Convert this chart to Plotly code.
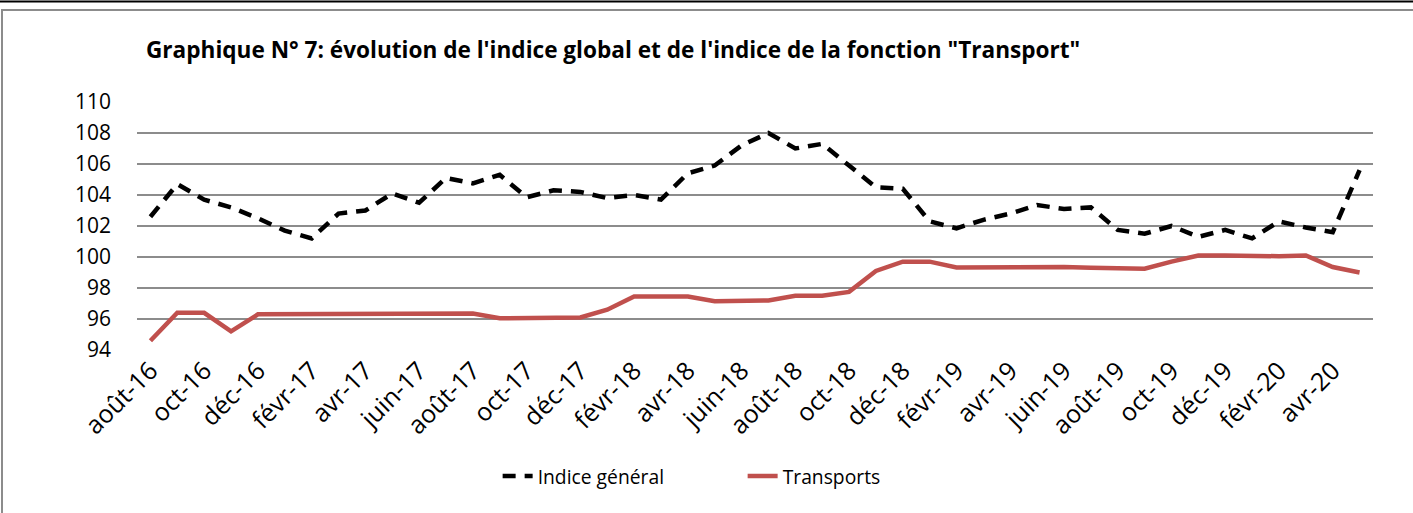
import plotly.graph_objects as go

months = ["janv", "févr", "mars", "avr", "mai", "juin", "juil", "août", "sept", "oct", "nov", "déc"]
categories = []
y, m = 16, 7
for _ in range(46):
    categories.append(f"{months[m]}-{y:02d}")
    m += 1
    if m == 12:
        m = 0
        y += 1

indice_general = [102.6, 104.7, 103.7, 103.2, 102.5, 101.7, 101.2, 102.8, 103.0, 104.1,
                  103.5, 105.1, 104.75, 105.3, 103.85, 104.3, 104.2, 103.8, 104.0, 103.7,
                  105.4, 105.9, 107.2, 108.0, 107.0, 107.3, 105.9, 104.5, 104.4, 102.3,
                  101.85, 102.4, 102.8, 103.35, 103.1, 103.2, 101.75, 101.5, 102.0, 101.3,
                  101.75, 101.2, 102.3, 101.9, 101.6, 105.6]
transports = [94.6, 96.4, 96.4, 95.2, 96.3, 96.3, 96.3, 96.28, 96.28, 96.3,
              96.32, 96.32, 96.35, 96.05, 96.05, 96.05, 96.1, 96.6, 97.45, 97.45,
              97.45, 97.15, 97.15, 97.2, 97.5, 97.5, 97.75, 99.1, 99.7, 99.7,
              99.33, 99.35, 99.35, 99.4, 99.35, 99.3, 99.25, 99.25, 99.7, 100.1,
              100.1, 100.05, 100.05, 100.1, 99.35, 99.0]
yticks = [94, 96, 98, 100, 102, 104, 106, 108, 110]

FONT = "Open Sans"

fig = go.Figure()
fig.add_trace(go.Scatter(x=categories, y=indice_general, mode="lines", name="Indice général",
                         line=dict(color="black", width=4.5, dash="13px,9px")))
fig.add_trace(go.Scatter(x=categories, y=transports, mode="lines", name="Transports",
                         line=dict(color="#C0504D", width=4.5)))

fig.update_layout(
    width=1413, height=513,
    margin=dict(l=137, r=40, t=102, b=163),
    paper_bgcolor="white", plot_bgcolor="white",
    font=dict(family=FONT, color="black"),
    title=dict(text="<b>Graphique N° 7: évolution de l'indice global et de l'indice de la fonction \"Transport\"</b>",
               x=146/1413, xanchor="left", y=1-50/513, yanchor="middle",
               font=dict(size=22.6, family=FONT, color="black")),
    showlegend=True,
    legend=dict(orientation="h", x=0.49, xanchor="center", y=-0.51, yanchor="middle",
                font=dict(size=19.3, family=FONT), traceorder="normal",
                entrywidth=200, entrywidthmode="pixels"),
    xaxis=dict(type="category", tickvals=categories[::2], ticktext=categories[::2],
               tickangle=-45, tickfont=dict(size=25, family=FONT), showgrid=False,
               showline=False, ticks="", range=[-0.5, 45.5]),
    yaxis=dict(range=[94, 110], tickvals=yticks, showgrid=True, gridcolor="#8C8C8C", gridwidth=1.5,
               tickfont=dict(size=21, family=FONT), zeroline=False, ticklabelstandoff=25),
)

fig.add_shape(type="rect", xref="paper", yref="paper",
              x0=-135/1236, x1=(1420-137)/1236, y0=-(520-350)/248, y1=(350-10)/248,
              line=dict(color="#8C8C8C", width=2), layer="below")
fig.add_shape(type="line", xref="paper", yref="paper",
              x0=-137/1236, x1=(1413-137)/1236, y0=(350-1.5)/248, y1=(350-1.5)/248,
              line=dict(color="black", width=2))

fig.write_html("out.html", config={"displayModeBar": False},
               post_script="document.body.style.margin='0';")
